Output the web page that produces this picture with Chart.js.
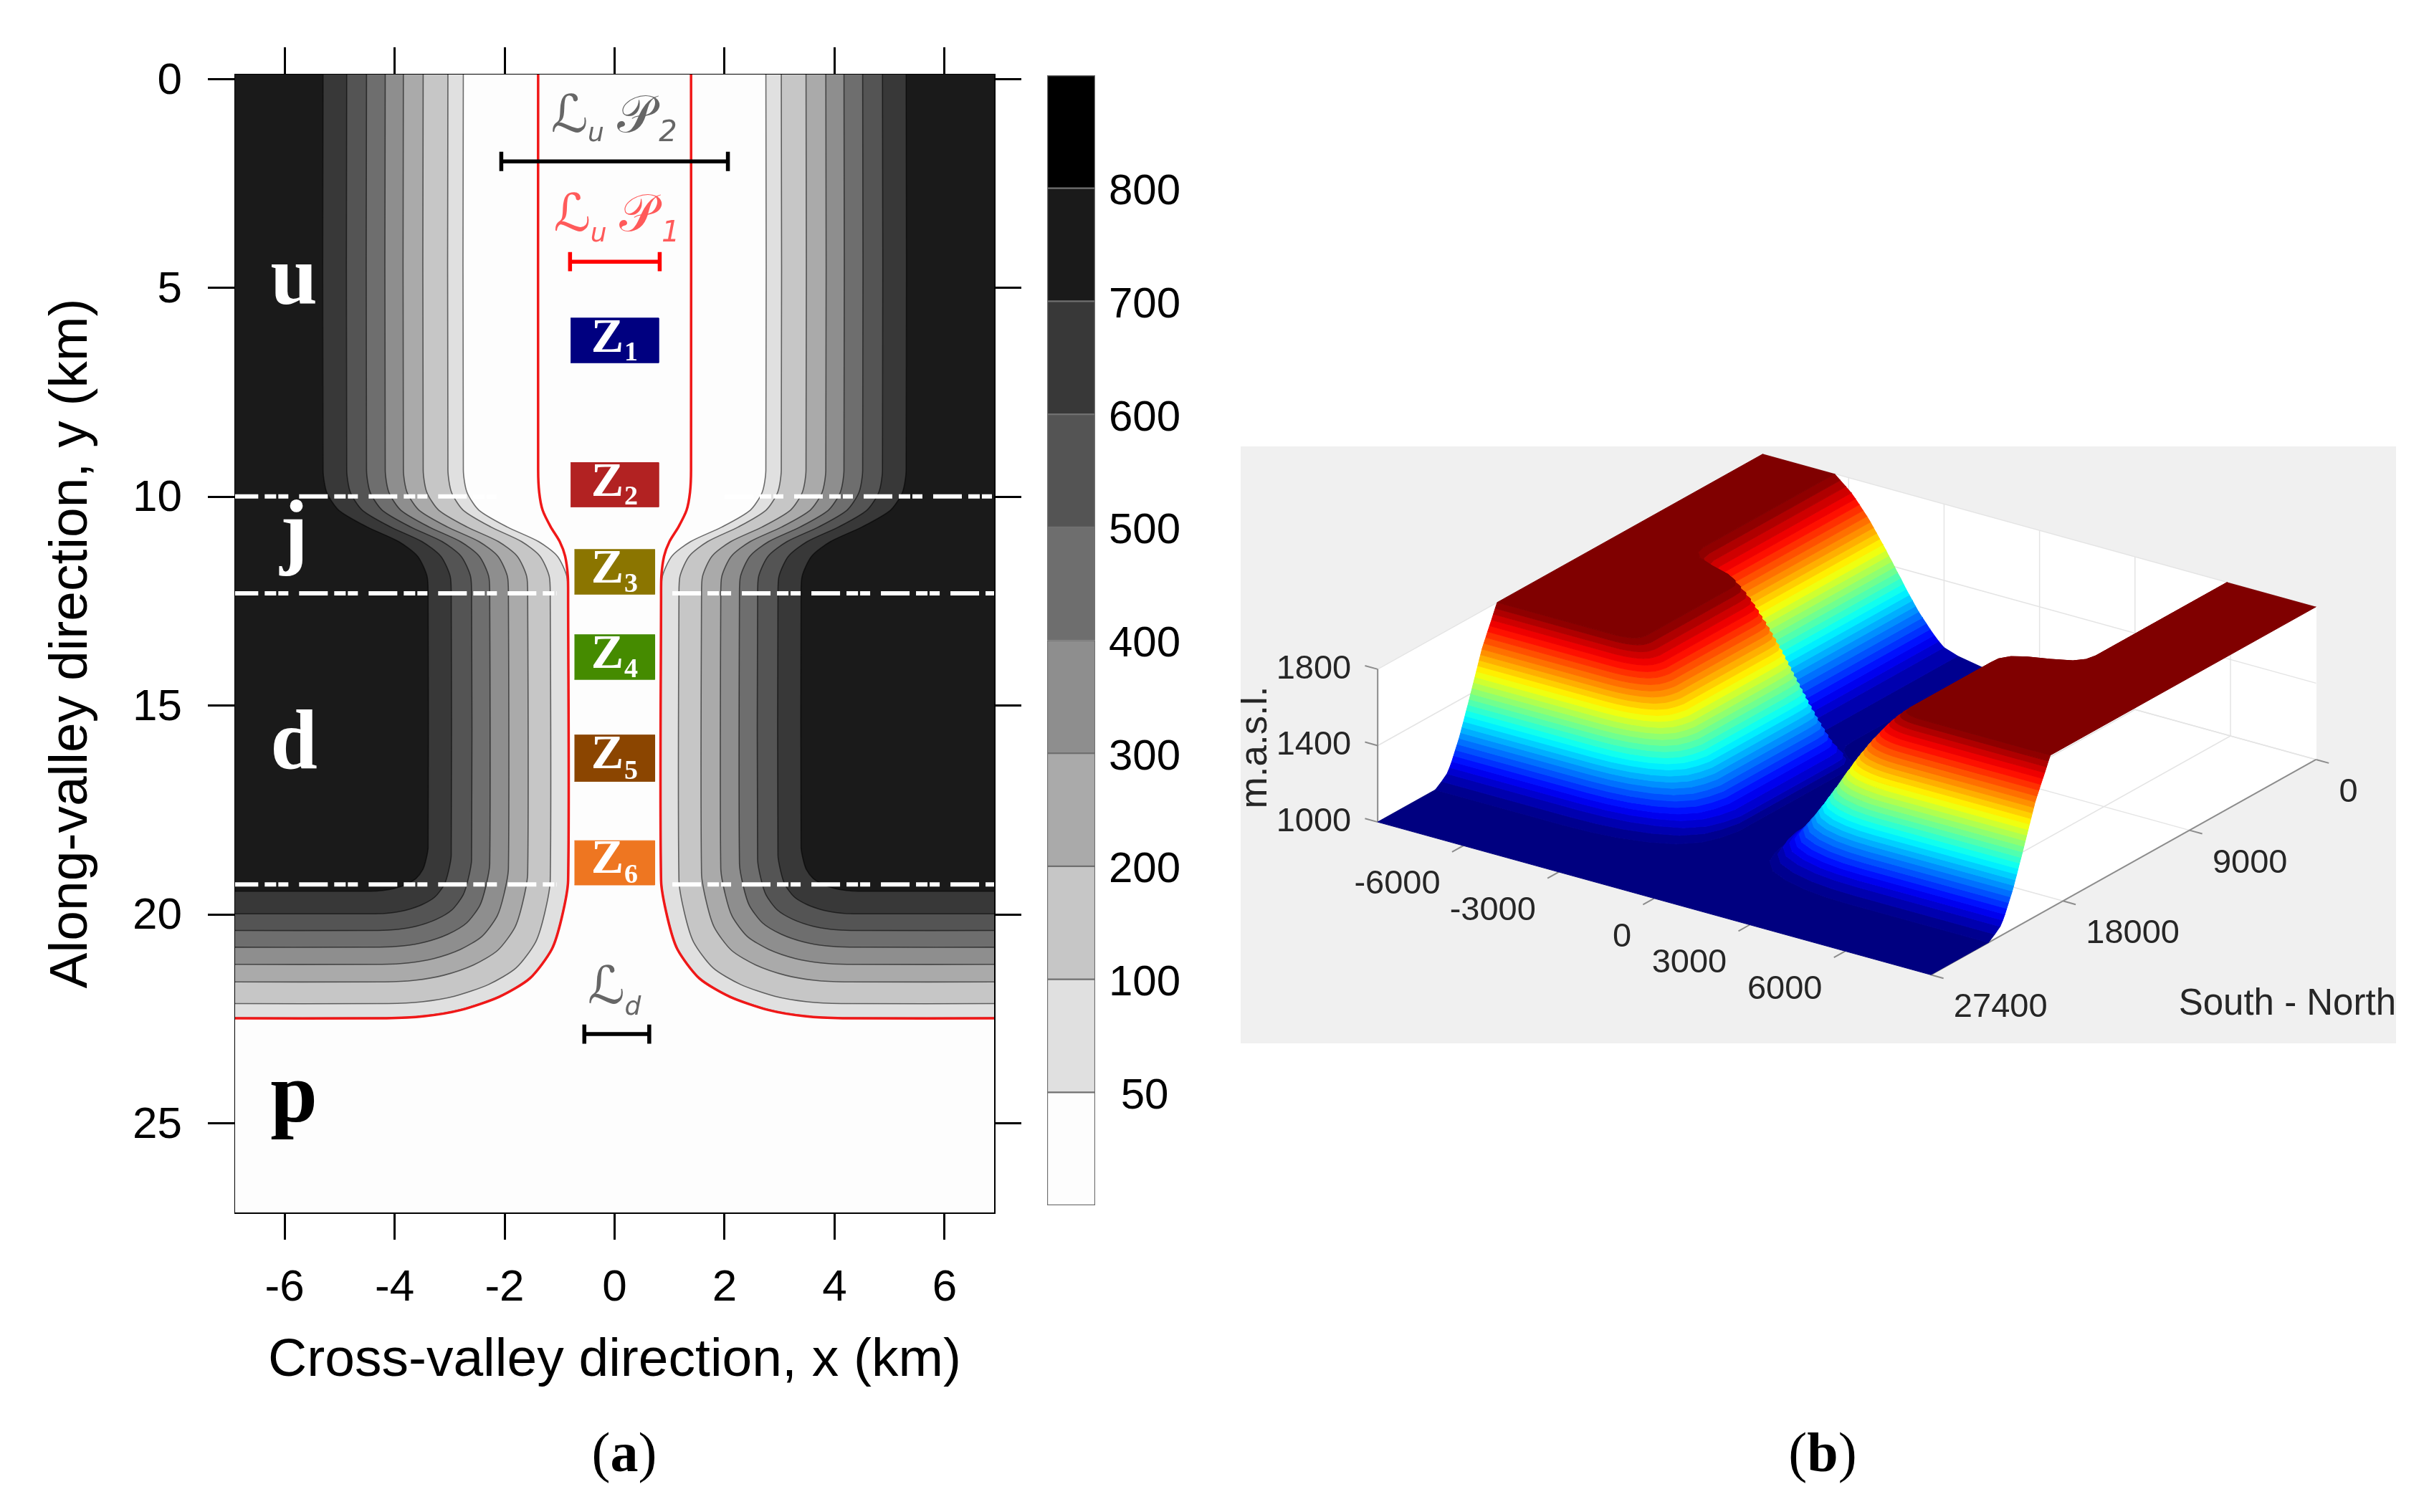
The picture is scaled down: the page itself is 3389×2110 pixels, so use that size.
<!DOCTYPE html>
<html>
<head>
<meta charset="utf-8">
<script src="https://cdn.jsdelivr.net/npm/chart.js@4/dist/chart.umd.min.js"></script>
<style>
  html, body { margin: 0; background: #fff; }
  canvas, .caption { position: absolute; }
  .caption { font: 78px "Liberation Serif"; top: 1982px; transform: translateX(-50%); }
</style>
</head>
<body>
<canvas id="valley" style="left:0;top:0" width="1450" height="1960"></canvas>
<canvas id="colorbar" style="left:1450px;top:90px" width="240" height="1610"></canvas>
<canvas id="surface" style="left:1731px;top:623px;background:#f0f0f0" width="1612" height="833"></canvas>
<div class="caption" style="left:871px">(<b>a</b>)</div>
<div class="caption" style="left:2543px">(<b>b</b>)</div>
<script>
// panel a axes
const xTickValues = [-6, -4, -2, 0, 2, 4, 6];
const yTickValues = [0, 5, 10, 15, 20, 25];
const colorbarLabels = ['', 50, 100, 200, 300, 400, 500, 600, 700, 800, ''];
const colorbarColors = ['#fdfdfd', '#e0e0e0', '#c6c6c6', '#aaaaaa', '#8e8e8e', '#6e6e6e', '#545454', '#383838', '#1a1a1a', '#000000'];

// terrain height above valley floor (m) and how each contour sits, km
const terrainLevels = [0, 25, 50, 75, 100, 125, 150, 175, 200, 225, 250, 275, 300, 325, 350, 375, 400, 425, 450, 475, 500, 525, 550, 575, 600, 625, 650, 675, 700, 725, 750, 775, 800];
const upperWidth = [1.60, 2.35, 2.75, 2.90, 3.03, 3.15, 3.26, 3.37, 3.48, 3.57, 3.66, 3.75, 3.84, 3.92, 4.00, 4.09, 4.17, 4.25, 4.34, 4.42, 4.51, 4.60, 4.69, 4.78, 4.87, 4.97, 5.08, 5.19, 5.30, 5.42, 5.58, 5.74, 5.90];
const lowerWidth = [0.70, 0.80, 0.85, 1.02, 1.17, 1.28, 1.38, 1.48, 1.58, 1.67, 1.76, 1.85, 1.93, 2.02, 2.10, 2.19, 2.27, 2.35, 2.43, 2.52, 2.60, 2.69, 2.78, 2.88, 2.97, 3.07, 3.18, 3.28, 3.39, 3.51, 3.64, 3.79, 3.95];
const footY = [23.30, 22.85, 22.47, 22.28, 22.13, 22.00, 21.87, 21.74, 21.61, 21.50, 21.40, 21.29, 21.19, 21.09, 20.98, 20.88, 20.78, 20.68, 20.58, 20.48, 20.38, 20.28, 20.18, 20.08, 19.98, 19.85, 19.71, 19.58, 19.44, 19.30, 19.17, 19.04, 18.90];
const cornerSize = [3.60, 3.45, 3.30, 3.12, 2.95, 2.86, 2.78, 2.69, 2.60, 2.52, 2.45, 2.38, 2.30, 2.22, 2.15, 2.08, 2.00, 1.92, 1.85, 1.78, 1.70, 1.62, 1.55, 1.48, 1.40, 1.31, 1.22, 1.14, 1.05, 0.96, 0.88, 0.79, 0.70];

// shape of the valley narrowing and of the valley mouth
const junctionY = [9.36, 9.89, 10.32, 10.72, 11.07, 11.42, 11.90, 12.42];
const junctionShare = [0, 0.035, 0.15, 0.42, 0.72, 0.90, 0.99, 1];
const mouthRun = [0, 0.035, 0.09, 0.21, 0.38, 0.59, 0.79, 1];
const mouthRise = [1, 0.73, 0.50, 0.29, 0.155, 0.06, 0.015, 0];

// filled contours in panel a
const bandLevels = [50, 100, 200, 300, 400, 500, 600, 700];
const bandColors = ['#e0e0e0', '#c6c6c6', '#aaaaaa', '#8e8e8e', '#6e6e6e', '#545454', '#383838', '#1a1a1a'];
const redContour = [1.39, 0.845, 22.48, 3.3];

// section limits, boxes and scale bars
const sectionLines = [[9.99, 2.0], [12.31, 1.05], [19.28, 1.05]];
const zoneNames = ['1', '2', '3', '4', '5', '6'];
const zoneColors = ['#000080', '#b22222', '#8b7500', '#458b00', '#8b4500', '#ee7621'];
const zoneTop = [5.72, 9.18, 11.26, 13.30, 15.70, 18.23];
const zoneBottom = [6.79, 10.24, 12.33, 14.37, 16.81, 19.29];
const zoneHalf = [0.80, 0.80, 0.73, 0.73, 0.73, 0.73];
const scaleBars = [
  { from: -2.06, to: 2.06, y: 1.97, color: '#000000' },
  { from: -0.81, to: 0.82, y: 4.37, color: '#ff0000' },
  { from: -0.55, to: 0.63, y: 22.86, color: '#000000' }
];

// panel b axes
const surfaceXTicks = [-6000, -3000, 0, 3000, 6000];
const surfaceYTicks = [0, 9000, 18000, 27400];
const surfaceZTicks = [1000, 1400, 1800];
// in panel b the west wall stands a little further out than the east one
const westWallStretch = 1.09;

const FONT = '"Liberation Sans"';
const SERIF = '"Liberation Serif"';
const SCRIPT = '"DejaVu Sans"';

function contourPath(halfUp, halfDown, foot, corner, edge, top, side) {
  const pts = [{ x: side * halfUp, y: top }];
  junctionY.forEach((y, i) => pts.push({ x: side * (halfUp + (halfDown - halfUp) * junctionShare[i]), y }));
  mouthRun.forEach((run, i) => pts.push({ x: side * (halfDown + corner * run), y: foot - corner * mouthRise[i] }));
  pts.push({ x: side * edge, y: foot });
  return pts;
}

function rowPath(i, edge, top, side) {
  return contourPath(upperWidth[i], lowerWidth[i], footY[i], cornerSize[i], edge, top, side);
}

function shape(data, color, extra) {
  return Object.assign({ data, showLine: true, pointRadius: 0, fill: 'shape', backgroundColor: color, borderColor: color, borderWidth: 1 }, extra);
}

function line(data, color, width, extra) {
  return Object.assign({ data, showLine: true, pointRadius: 0, fill: false, borderColor: color, borderWidth: width }, extra);
}

function put(ctx, text, x, y, font, color, align, base) {
  ctx.font = font;
  ctx.fillStyle = color;
  ctx.textAlign = align || 'center';
  ctx.textBaseline = base || 'alphabetic';
  ctx.fillText(text, x, y);
}

// ---- panel a ----
const valleyLayers = [];
bandLevels.forEach((level, b) => {
  const i = terrainLevels.indexOf(level);
  [-1, 1].forEach(side => {
    const path = rowPath(i, 7.2, -0.4, side);
    // run past the frame so the curve stays flat at the edge
    path.push({ x: side * 11, y: footY[i] }, { x: side * 11, y: -0.4 });
    valleyLayers.push(shape(path, bandColors[b], { borderColor: 'rgba(0,0,0,0.55)', borderWidth: 1.6, tension: 0.25 }));
  });
});
[-1, 1].forEach(side => {
  const red = contourPath(redContour[0], redContour[1], redContour[2], redContour[3], 7.2, -0.4, side);
  red.push({ x: side * 11, y: redContour[2] });
  valleyLayers.push(line(red, '#f01818', 3.5, { tension: 0.25 }));
});
sectionLines.forEach(([y, gap]) => {
  [-1, 1].forEach(side => {
    const a = side < 0 ? -7 : gap;
    valleyLayers.push(line([{ x: a, y }, { x: side < 0 ? -gap : 7, y }], '#ffffff', 6, { borderDash: [40, 9, 16, 3, 14, 15] }));
  });
});
zoneNames.forEach((n, i) => {
  const h = zoneHalf[i];
  valleyLayers.push(shape([{ x: -h, y: zoneTop[i] }, { x: h, y: zoneTop[i] }, { x: h, y: zoneBottom[i] }, { x: -h, y: zoneBottom[i] }], zoneColors[i]));
});
scaleBars.forEach(b => {
  const cap = 0.23;
  valleyLayers.push(line([
    { x: b.from, y: b.y - cap }, { x: b.from, y: b.y + cap }, { x: b.from, y: b.y },
    { x: b.to, y: b.y }, { x: b.to, y: b.y - cap }, { x: b.to, y: b.y + cap }
  ], b.color, 5.5));
});

const valleyText = {
  id: 'valleyText',
  beforeDatasetsDraw(chart) {
    const { ctx, chartArea: a } = chart;
    ctx.save();
    ctx.fillStyle = '#fdfdfd';
    ctx.fillRect(a.left, a.top, a.width, a.height);
    ctx.restore();
  },
  afterDatasetsDraw(chart) {
    const { ctx, scales: { x, y } } = chart;
    const at = (t, xv, yv, font, color, align) => put(ctx, t, x.getPixelForValue(xv), y.getPixelForValue(yv), font, color, align);
    ctx.save();
    [['u', 5.38], ['j', 11.47], ['d', 16.5], ['p', 24.96]].forEach(([t, yv]) => at(t, -5.83, yv, 'bold 118px ' + SERIF, t === 'p' ? '#000' : '#fff'));
    zoneNames.forEach((n, i) => {
      at('Z', -0.13, [6.52, 9.97, 12.05, 14.10, 16.50, 19.0][i], 'bold 68px ' + SERIF, '#fff');
      at(n, 0.30, zoneBottom[i] - 0.05, 'bold 38px ' + SERIF, '#fff');
    });
    const scriptLabel = (c, base, sub, subBase, color) => {
      at('\u2112', -0.82 + c, base, '72px ' + SCRIPT, color);
      at('u', -0.34 + c, subBase, 'italic 36px ' + SCRIPT, color);
      at('\ud835\udcab', 0.38 + c, base, '72px ' + SCRIPT, color);
      at(sub, 0.97 + c, subBase, 'italic 40px ' + SCRIPT, color);
    };
    scriptLabel(0, 1.27, '2', 1.49, '#666666');
    scriptLabel(0.05, 3.63, '1', 3.89, '#ff5a5a');
    at('\u2112', -0.15, 22.12, '72px ' + SCRIPT, '#666666');
    at('d', 0.33, 22.39, 'italic 36px ' + SCRIPT, '#666666');
    ctx.restore();
  }
};

const frameGrid = { drawOnChartArea: false, color: '#000', lineWidth: 3, tickLength: 38 };
const frameBorder = { display: true, color: '#000', width: 3 };
const setTicks = values => scale => { scale.ticks = values.map(value => ({ value })); };

new Chart(document.getElementById('valley'), {
  type: 'scatter',
  data: { datasets: valleyLayers.reverse() },
  plugins: [valleyText],
  options: {
    responsive: false,
    devicePixelRatio: 1,
    animation: false,
    layout: { padding: 0 },
    plugins: { legend: { display: false }, tooltip: { enabled: false } },
    scales: {
      x: {
        type: 'linear', position: 'bottom', min: -6.9, max: 6.9,
        afterBuildTicks: setTicks(xTickValues),
        afterFit: s => { s.height = 268; },
        grid: frameGrid, border: frameBorder,
        ticks: { color: '#000', font: { family: FONT, size: 62 }, padding: 31, maxRotation: 0, callback: v => String(v) },
        title: { display: true, text: 'Cross-valley direction, x (km)', color: '#000', font: { family: FONT, size: 75 }, padding: { top: 0, bottom: 16 } }
      },
      xTop: {
        type: 'linear', position: 'top', min: -6.9, max: 6.9,
        afterBuildTicks: setTicks(xTickValues),
        afterFit: s => { s.height = 104; },
        grid: frameGrid, border: frameBorder, ticks: { display: false }
      },
      y: {
        type: 'linear', position: 'left', reverse: true, min: -0.11, max: 27.13,
        afterBuildTicks: setTicks(yTickValues),
        afterFit: s => { s.width = 328; },
        grid: frameGrid, border: frameBorder,
        ticks: { color: '#000', font: { family: FONT, size: 62 }, padding: 36, labelOffset: 3, callback: v => String(v) },
        title: { display: true, text: 'Along-valley direction, y (km)', color: '#000', font: { family: FONT, size: 75 }, padding: { top: 55, bottom: 0 } }
      },
      yRight: {
        type: 'linear', position: 'right', reverse: true, min: -0.11, max: 27.13,
        afterBuildTicks: setTicks(yTickValues),
        afterFit: s => { s.width = 63; },
        grid: frameGrid, border: frameBorder, ticks: { display: false }
      }
    }
  }
});

// ---- colour bar ----
new Chart(document.getElementById('colorbar'), {
  type: 'bar',
  data: {
    labels: [''],
    datasets: colorbarColors.map(c => ({ data: [1], backgroundColor: c, borderColor: '#707070', borderWidth: 1.5, borderSkipped: false, categoryPercentage: 1, barPercentage: 1 }))
  },
  options: {
    responsive: false,
    devicePixelRatio: 1,
    animation: false,
    layout: { padding: { left: 11, top: 15, bottom: 18, right: 0 } },
    plugins: { legend: { display: false }, tooltip: { enabled: false } },
    scales: {
      x: { stacked: true, display: false },
      y: {
        stacked: true, position: 'right', min: 0, max: 10,
        afterFit: s => { s.width = 162; s.paddingTop = 0; s.paddingBottom = 0; },
        grid: { display: false, drawTicks: false }, border: { display: false },
        ticks: { stepSize: 1, color: '#000', font: { family: FONT, size: 60 }, padding: 19, labelOffset: 6, crossAlign: 'center', autoSkip: false, callback: v => colorbarLabels[v] }
      }
    }
  }
});

// ---- panel b ----
const EDGE = 8.69, LENGTH = 27.4;
function project(x, y, z) {
  return {
    x: 191.2 + (x + EDGE) * 44.40 + (LENGTH - y) * 19.62,
    y: 524.1 + (x + EDGE) * 12.267 - (LENGTH - y) * 10.96 - (z - 1000) * 0.26655
  };
}
function jet(t) {
  const c = v => Math.round(255 * Math.max(0, Math.min(1, v)));
  return 'rgb(' + c(1.5 - Math.abs(4 * t - 3)) + ',' + c(1.5 - Math.abs(4 * t - 2)) + ',' + c(1.5 - Math.abs(4 * t - 1)) + ')';
}
function surfacePath(i, side) {
  const stretch = side < 0 ? westWallStretch : 1;
  return rowPath(i, EDGE, 0, side).map(p => ({ x: Math.abs(p.x) < EDGE ? p.x * stretch : p.x, y: p.y }));
}
const lift = (path, level) => path.map(p => project(p.x, p.y, 1000 + level));

const surfaceLayers = [];
// walls and floor of the axes box
surfaceLayers.push(shape([project(-EDGE, LENGTH, 1000), project(EDGE, LENGTH, 1000), project(EDGE, 0, 1000), project(-EDGE, 0, 1000)], '#ffffff'));
surfaceLayers.push(shape([project(-EDGE, LENGTH, 1000), project(-EDGE, 0, 1000), project(-EDGE, 0, 1800), project(-EDGE, LENGTH, 1800)], '#ffffff'));
surfaceLayers.push(shape([project(-EDGE, 0, 1000), project(EDGE, 0, 1000), project(EDGE, 0, 1800), project(-EDGE, 0, 1800)], '#ffffff'));
const gridColor = '#e4e4e4';
surfaceXTicks.forEach(v => {
  const x = v / 1000;
  surfaceLayers.push(line([project(x, LENGTH, 1000), project(x, 0, 1000), project(x, 0, 1800)], gridColor, 1.5));
});
surfaceYTicks.forEach(v => {
  const y = v / 1000;
  surfaceLayers.push(line([project(EDGE, y, 1000), project(-EDGE, y, 1000), project(-EDGE, y, 1800)], gridColor, 1.5));
});
surfaceZTicks.forEach(z => {
  surfaceLayers.push(line([project(-EDGE, LENGTH, z), project(-EDGE, 0, z), project(EDGE, 0, z)], gridColor, 1.5));
});
// axis lines and tick marks
const axisColor = '#8c8c8c';
surfaceLayers.push(line([project(-EDGE, LENGTH, 1800), project(-EDGE, LENGTH, 1000)], axisColor, 2));
surfaceLayers.push(line([project(EDGE, LENGTH, 1000), project(EDGE, 0, 1000)], axisColor, 2));
surfaceZTicks.forEach(z => surfaceLayers.push(line([project(-EDGE, LENGTH, z), project(-EDGE - 0.4, LENGTH, z)], axisColor, 2)));
surfaceXTicks.forEach(v => surfaceLayers.push(line([project(v / 1000, LENGTH, 1000), project(v / 1000, LENGTH + 0.8, 1000)], axisColor, 2)));
surfaceYTicks.forEach(v => surfaceLayers.push(line([project(EDGE, v / 1000, 1000), project(EDGE + 0.4, v / 1000, 1000)], axisColor, 2)));

// valley floor, then ribbons between contours from low to high
const floorWest = surfacePath(0, -1);
const floorEast = surfacePath(0, 1).reverse();
surfaceLayers.push(shape(lift(floorWest.concat([{ x: -EDGE, y: LENGTH }, { x: EDGE, y: LENGTH }], floorEast), 0), jet(0)));
for (let i = 0; i < terrainLevels.length - 1; i++) {
  const color = jet((terrainLevels[i] + terrainLevels[i + 1]) / 2 / 800);
  [-1, 1].forEach(side => {
    const low = lift(surfacePath(i, side), terrainLevels[i]);
    const high = lift(surfacePath(i + 1, side), terrainLevels[i + 1]).reverse();
    surfaceLayers.push(shape(low.concat(high), color));
  });
}
const topRow = terrainLevels.length - 1;
[-1, 1].forEach(side => {
  surfaceLayers.push(shape(lift(surfacePath(topRow, side).concat([{ x: side * EDGE, y: 0 }]), 800), jet(1)));
});

const surfaceText = {
  id: 'surfaceText',
  afterDatasetsDraw(chart) {
    const { ctx, scales: { x, y } } = chart;
    const px = p => ({ x: x.getPixelForValue(p.x), y: y.getPixelForValue(p.y) });
    const font = '47px ' + FONT, ink = '#262626';
    ctx.save();
    surfaceXTicks.forEach(v => { const p = px(project(v / 1000, LENGTH, 1000)); put(ctx, String(v), p.x - 32, p.y + 54, font, ink, 'right', 'middle'); });
    surfaceYTicks.forEach(v => { const p = px(project(EDGE, v / 1000, 1000)); put(ctx, String(v), p.x + 32, p.y + 46, font, ink, 'left', 'middle'); });
    surfaceZTicks.forEach(z => { const p = px(project(-EDGE, LENGTH, z)); put(ctx, String(z), p.x - 37, p.y, font, ink, 'right', 'middle'); });
    put(ctx, 'South - North', 1612, 779, '51px ' + FONT, ink, 'right', 'middle');
    ctx.translate(21, 420);
    ctx.rotate(-Math.PI / 2);
    put(ctx, 'm.a.s.l.', 0, 0, '53px ' + FONT, ink, 'center', 'middle');
    ctx.restore();
  }
};

new Chart(document.getElementById('surface'), {
  type: 'scatter',
  data: { datasets: surfaceLayers.reverse() },
  plugins: [surfaceText],
  options: {
    responsive: false,
    devicePixelRatio: 1,
    animation: false,
    layout: { padding: 0 },
    plugins: { legend: { display: false }, tooltip: { enabled: false } },
    scales: {
      x: { type: 'linear', display: false, min: 0, max: 1612 },
      y: { type: 'linear', display: false, min: 0, max: 833, reverse: true }
    }
  }
});
</script>
</body>
</html>
